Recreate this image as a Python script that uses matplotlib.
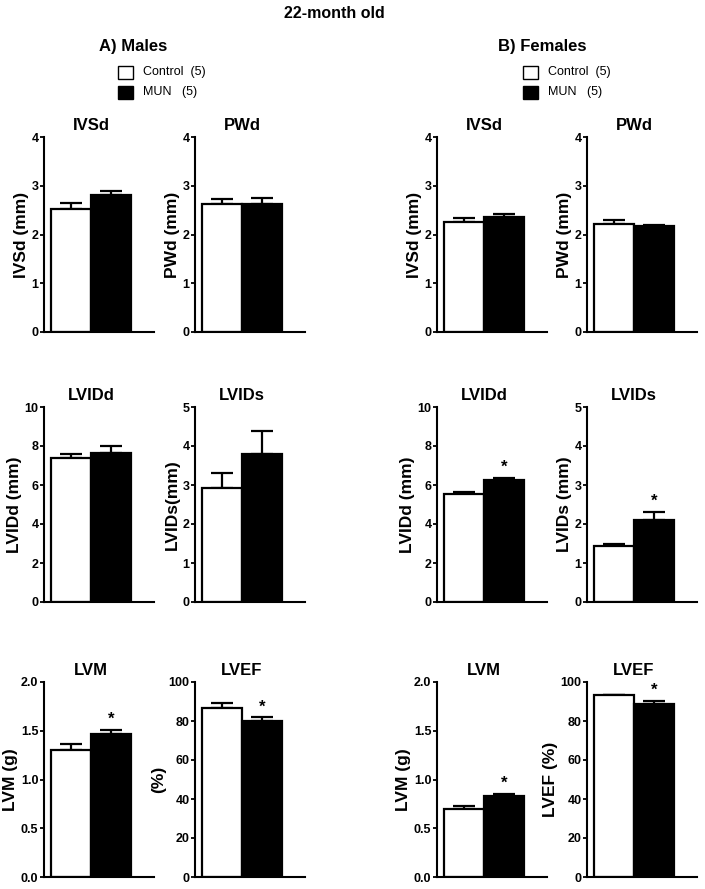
import matplotlib
matplotlib.use("Agg")
import matplotlib.pyplot as plt
from matplotlib.patches import Rectangle

plt.rcParams['font.family'] = ['Liberation Sans', 'DejaVu Sans']

# Data (mean and SEM)
panels = ['IVSd', 'PWd', 'LVIDd', 'LVIDs', 'LVM', 'LVEF']
ymax = [4, 4, 10, 5, 2.0, 100]
ystep = [1, 1, 2, 1, 0.5, 20]

male_control = [2.52, 2.63, 7.38, 2.92, 1.305, 86.9]
male_control_sem = [0.12, 0.09, 0.21, 0.39, 0.055, 2.4]
male_mun = [2.82, 2.62, 7.64, 3.80, 1.47, 80.2]
male_mun_sem = [0.08, 0.12, 0.34, 0.58, 0.04, 1.7]
male_sig = [False, False, False, False, True, True]
male_ylabels = ['IVSd (mm)', 'PWd (mm)', 'LVIDd (mm)', 'LVIDs(mm)', 'LVM (g)', '(%)']

female_control = [2.26, 2.21, 5.56, 1.43, 0.70, 93.4]
female_control_sem = [0.08, 0.09, 0.06, 0.07, 0.03, 0.1]
female_mun = [2.36, 2.18, 6.24, 2.11, 0.835, 88.6]
female_mun_sem = [0.07, 0.02, 0.12, 0.20, 0.015, 1.9]
female_sig = [False, False, True, True, True, True]
female_ylabels = ['IVSd (mm)', 'PWd (mm)', 'LVIDd (mm)', 'LVIDs (mm)', 'LVM (g)', 'LVEF (%)']

groups = ['Control  (5)', 'MUN   (5)']

W, H = 705, 889
fig = plt.figure(figsize=(W / 100, H / 100), dpi=100)

col_left = [44, 195, 437, 587]
row_top = [137, 407, 682]
ax_w, ax_h = 110, 195

tick_font = dict(family=['Liberation Sans Narrow', 'Liberation Sans', 'DejaVu Sans'],
                 weight='bold', size=9)


def draw_panel(ax, name, ctrl, ctrl_sem, mun, mun_sem, top, step, sig, ylabel):
    ax.bar([0, 1], [ctrl, mun], width=1.0, color=['white', 'black'],
           edgecolor='black', linewidth=1.6, zorder=2)
    ax.errorbar([0, 1], [ctrl, mun], yerr=[[0, 0], [ctrl_sem, mun_sem]],
                fmt='none', ecolor='black', elinewidth=1.6, capsize=8,
                capthick=1.6, zorder=1)
    ax.set_xlim(-0.675, 2.075)
    ax.set_ylim(0, top)
    n = int(round(top / step))
    ticks = [i * step for i in range(n + 1)]
    ax.set_yticks(ticks)
    if step < 1:
        ax.set_yticklabels([f'{t:.1f}' for t in ticks], **tick_font)
    else:
        ax.set_yticklabels([f'{int(t)}' for t in ticks], **tick_font)
    ax.set_xticks([])
    for s in ['top', 'right']:
        ax.spines[s].set_visible(False)
    for s in ['left', 'bottom']:
        ax.spines[s].set_linewidth(1.5)
    ax.tick_params(axis='y', length=3, width=1.3, pad=1)
    ax.set_ylabel(ylabel, fontsize=12.5, fontweight='bold', labelpad=2)
    ax.text(0.5, top * 1.02, name, ha='center', va='bottom',
            fontsize=12, fontweight='bold')
    if sig:
        ax.text(1, mun + mun_sem + top * 0.015, '*', ha='center', va='bottom',
                fontsize=12, fontweight='bold')


sexes = [
    (male_control, male_control_sem, male_mun, male_mun_sem, male_sig, male_ylabels, 0),
    (female_control, female_control_sem, female_mun, female_mun_sem, female_sig, female_ylabels, 2),
]

for ctrl, csem, mun, msem, sig, ylabs, c0 in sexes:
    for i, name in enumerate(panels):
        r, c = divmod(i, 2)
        left = col_left[c0 + c]
        top_px = row_top[r]
        ax = fig.add_axes([left / W, (H - top_px - ax_h) / H, ax_w / W, ax_h / H])
        draw_panel(ax, name, ctrl[i], csem[i], mun[i], msem[i],
                   ymax[i], ystep[i], sig[i], ylabs[i])

# Headings
fig.text(334 / W, 1 - 14 / H, '22-month old', ha='center', va='center',
         fontsize=11.5, fontweight='bold')
fig.text(133 / W, 1 - 47 / H, 'A) Males', ha='center', va='center',
         fontsize=12, fontweight='bold')
fig.text(542 / W, 1 - 47 / H, 'B) Females', ha='center', va='center',
         fontsize=12, fontweight='bold')

# Legends
for sq_x in [118, 523]:
    for j, (g, col) in enumerate(zip(groups, ['white', 'black'])):
        yc = 72 + j * 20
        fig.patches.append(Rectangle((sq_x / W, (H - yc - 7) / H), 15 / W, 13 / H,
                                     transform=fig.transFigure, facecolor=col,
                                     edgecolor='black', linewidth=1.0))
        fig.text((sq_x + 25) / W, 1 - yc / H, g, ha='left', va='center',
                 fontsize=9)

fig.savefig('out.png', dpi=100)
